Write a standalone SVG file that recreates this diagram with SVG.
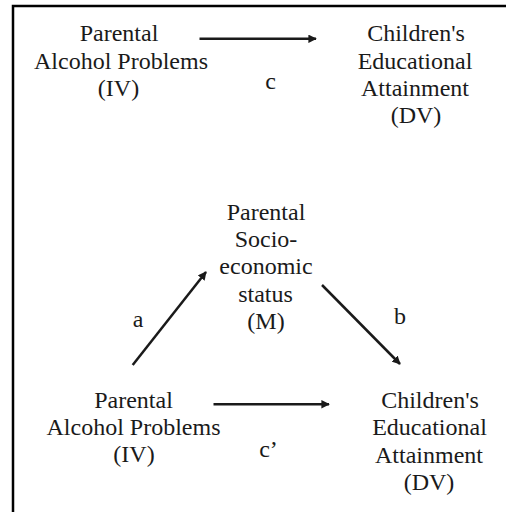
<svg xmlns="http://www.w3.org/2000/svg" width="506" height="512" viewBox="0 0 506 512">
<defs>
<style>
text{font-family:"Liberation Serif","Times New Roman",serif;font-size:24px;fill:#1a1a1a;text-anchor:middle}
.c{stroke:#1a1a1a;stroke-width:2.5;fill:none}
</style>
<marker id="ah" viewBox="0 0 10 10" refX="9" refY="5" markerWidth="3.4" markerHeight="3.4" orient="auto" markerUnits="strokeWidth">
<path d="M0,0 L10,5 L0,10 z" fill="#1a1a1a"/>
</marker>
</defs>
<rect x="0" y="0" width="506" height="512" fill="#fff"/>
<path d="M13,512 V6 H506" fill="none" stroke="#000" stroke-width="2.5"/>
<g id="iv1">
<text x="119" y="41">Parental</text>
<text x="121" y="68.5">Alcohol Problems</text>
<text x="118.5" y="95.5">(IV)</text>
</g>
<g id="dv1">
<text x="416" y="41">Children's</text>
<text x="415" y="68.5">Educational</text>
<text x="415" y="96">Attainment</text>
<text x="416" y="123">(DV)</text>
</g>
<g id="m">
<text x="266" y="219.5">Parental</text>
<text x="266" y="246.8">Socio-</text>
<text x="266" y="274">economic</text>
<text x="265.5" y="301.5">status</text>
<text x="266" y="328.5">(M)</text>
</g>
<g id="iv2">
<text x="133.5" y="407.5">Parental</text>
<text x="133.5" y="435">Alcohol Problems</text>
<text x="134" y="462">(IV)</text>
</g>
<g id="dv2">
<text x="430" y="407.5">Children's</text>
<text x="429.5" y="435">Educational</text>
<text x="429" y="462.5">Attainment</text>
<text x="429" y="489.5">(DV)</text>
</g>
<g id="connectors">
<line class="c" x1="199.5" y1="38.8" x2="316" y2="38.8" marker-end="url(#ah)"/>
<line class="c" x1="132.7" y1="365" x2="206" y2="272" marker-end="url(#ah)"/>
<line class="c" x1="322" y1="285" x2="400" y2="364" marker-end="url(#ah)"/>
<line class="c" x1="213.5" y1="404.3" x2="329" y2="404.3" marker-end="url(#ah)"/>
<text x="270.5" y="89">c</text>
<text x="138" y="327">a</text>
<text x="400" y="323.5">b</text>
<text x="268.5" y="457">c’</text>
</g>
</svg>
